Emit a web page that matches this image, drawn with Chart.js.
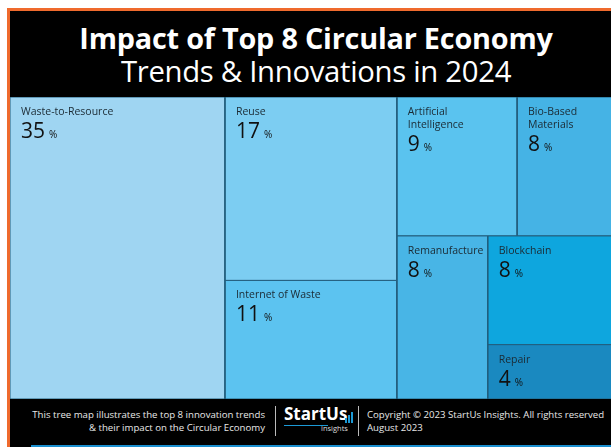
<!DOCTYPE html>
<html>
<head>
<meta charset="utf-8">
<script src="https://cdn.jsdelivr.net/npm/chart.js@4"></script>
<style>
  body { margin: 0; width: 611px; height: 447px; overflow: hidden; background: #fff; font-family: "Open Sans", sans-serif; position: relative; }
  #frame { position: absolute; left: 7px; top: 8px; width: 700px; height: 500px; background: #ef6a2d; }
  #panel { position: absolute; left: 10px; top: 11px; width: 612px; height: 440px; background: #000; }
  #title1 { position: absolute; left: 10px; width: 612px; top: 20px; text-align: center; color: #fff; font-weight: 700; font-size: 28.8px; line-height: 36px; letter-spacing: -0.2px; white-space: nowrap; }
  #title2 { position: absolute; left: 10px; width: 612px; top: 53px; text-align: center; color: #fff; font-weight: 400; font-size: 29.3px; line-height: 36px; letter-spacing: -0.3px; white-space: nowrap; }
  #box { position: absolute; left: 10px; top: 97px; width: 614px; height: 302px; }
  .foot { position: absolute; color: #e8e8e8; font-size: 9.65px; line-height: 13px; top: 408px; white-space: nowrap; }
  #footL { right: 346px; text-align: right; }
  #footR { left: 367px; }
  .sep { position: absolute; top: 406px; width: 1px; height: 30px; background: #bbb; }
  #logo { position: absolute; left: 284px; top: 403px; width: 70px; height: 36px; color: #fff; font-weight: 700; font-size: 17px; line-height: 22px; }
  #logo .ul { position: absolute; left: 0; top: 22px; width: 44px; height: 1px; background: #1c9ad6; }
  #logo .ins { position: absolute; left: 37px; top: 20px; font-size: 7.5px; font-weight: 400; color: #ddd; line-height: 10px; }
  #logo .bar { position: absolute; width: 2px; background: #1c9ad6; bottom: 16px; }
  #blue { position: absolute; left: 31px; top: 445px; width: 600px; height: 2px; background: #1a8fcf; }
</style>
</head>
<body>
<div id="frame"></div>
<div id="panel"></div>
<div id="title1">Impact of Top 8 Circular Economy</div>
<div id="title2">Trends &amp; Innovations in 2024</div>
<div id="box"><canvas id="tree" width="614" height="302"></canvas></div>
<div class="foot" id="footL">This tree map illustrates the top 8 innovation trends<br>&amp; their impact on the Circular Economy</div>
<div class="sep" style="left:275px"></div>
<div id="logo">StartUs<span class="bar" style="left:61px;height:5px"></span><span class="bar" style="left:64px;height:8px"></span><span class="bar" style="left:67px;height:11px"></span><span class="ul"></span><span class="ins">insights</span></div>
<div class="sep" style="left:358px"></div>
<div class="foot" id="footR">Copyright © 2023 StartUs Insights. All rights reserved<br>August 2023</div>
<div id="blue"></div>
<script>
// treemap data
const categories = ['Waste-to-Resource', 'Reuse', 'Internet of Waste', 'Artificial\nIntelligence',
    'Bio-Based\nMaterials', 'Remanufacture', 'Blockchain', 'Repair'];
const impact = [35, 17, 11, 9, 8, 8, 8, 4];
const cellColors = ['#9fd5f2', '#7ccdf2', '#5cc3f0', '#5ac3ef', '#45b3e5', '#48b5e6', '#0ea6de', '#1a89c0'];

// layout space (same aspect as the plot area)
const W = 614, H = 302;

// squarified treemap layout
function squarify(values, x, y, w, h) {
    const total = values.reduce((a, b) => a + b, 0);
    const areas = values.map(v => v * w * h / total);
    const rects = [];
    const worst = (row, side) => {
        const s = row.reduce((a, b) => a + b, 0);
        const mx = Math.max(...row), mn = Math.min(...row);
        return Math.max(side * side * mx / (s * s), (s * s) / (side * side * mn));
    };
    const layoutRow = (row) => {
        const s = row.reduce((a, b) => a + b, 0);
        if (w >= h) {
            const cw = s / h;
            let cy = y;
            row.forEach(a => { rects.push({ x0: x, y0: cy, x1: x + cw, y1: cy + a / cw }); cy += a / cw; });
            x += cw; w -= cw;
        } else {
            const rh = s / w;
            let cx = x;
            row.forEach(a => { rects.push({ x0: cx, y0: y, x1: cx + a / rh, y1: y + rh }); cx += a / rh; });
            y += rh; h -= rh;
        }
    };
    let row = [];
    let i = 0;
    while (i < areas.length) {
        const side = Math.min(w, h);
        if (row.length === 0 || worst([...row, areas[i]], side) <= worst(row, side)) {
            row.push(areas[i]);
            i++;
        } else {
            layoutRow(row);
            row = [];
        }
    }
    if (row.length) layoutRow(row);
    return rects;
}

const cells = squarify(impact, 0, 0, W, H);

const datasets = cells.map((c, i) => ({
    label: categories[i],
    data: [
        { x: c.x0, y: c.y0 }, { x: c.x1, y: c.y0 }, { x: c.x1, y: c.y1 },
        { x: c.x0, y: c.y1 }, { x: c.x0, y: c.y0 }
    ],
    backgroundColor: cellColors[i],
    borderColor: '#235e7d',
    borderWidth: 1,
    fill: 'shape',
    pointRadius: 0,
    tension: 0
}));

const cellLabels = {
    id: 'cellLabels',
    afterDatasetsDraw(chart) {
        const { ctx, scales } = chart;
        ctx.save();
        cells.forEach((c, i) => {
            const left = scales.x.getPixelForValue(c.x0) + 11;
            const top = scales.y.getPixelForValue(c.y0);
            const lines = categories[i].split('\n');
            ctx.fillStyle = '#1b2a33';
            ctx.font = '10.5px "Open Sans"';
            ctx.textBaseline = 'alphabetic';
            lines.forEach((l, k) => ctx.fillText(l, left, top + 18 + k * 13));
            const base = top + 18 + (lines.length - 1) * 13 + 23;
            ctx.fillStyle = '#111';
            ctx.font = '21px "Open Sans"';
            const num = String(impact[i]);
            ctx.fillText(num, left, base);
            const nw = ctx.measureText(num).width;
            ctx.font = '10px "Open Sans"';
            ctx.fillText('%', left + nw + 4, base);
        });
        ctx.restore();
    }
};

new Chart(document.getElementById('tree'), {
    type: 'line',
    data: { datasets },
    options: {
        responsive: false,
        animation: false,
        devicePixelRatio: 1,
        layout: { padding: 0 },
        scales: {
            x: { type: 'linear', min: 0, max: W, display: false },
            y: { type: 'linear', min: 0, max: H, reverse: true, display: false }
        },
        plugins: {
            legend: { display: false },
            tooltip: { enabled: false }
        }
    },
    plugins: [cellLabels]
});
</script>
</body>
</html>
